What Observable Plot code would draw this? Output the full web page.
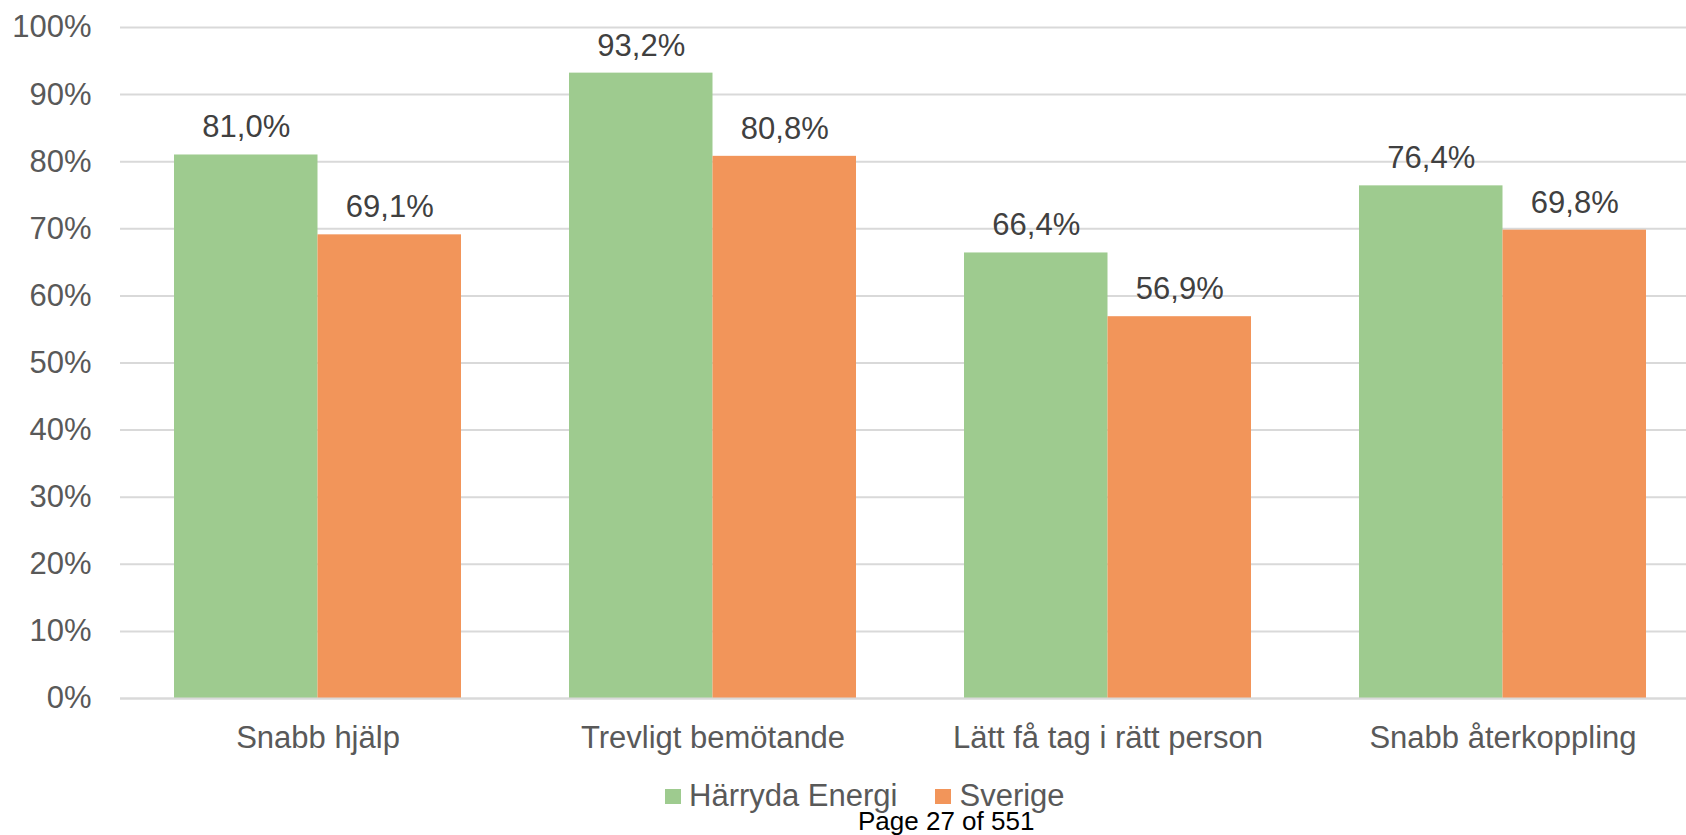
<!DOCTYPE html>
<html>
<head>
<meta charset="utf-8">
<script src="https://cdn.jsdelivr.net/npm/d3@7"></script>
<script src="https://cdn.jsdelivr.net/npm/@observablehq/plot@0.6"></script>
<style>
  html, body { margin: 0; padding: 0; background: #fff; overflow: hidden; }
  #wrap { position: relative; width: 1686px; height: 835px; overflow: hidden; background: #fff; font-family: "Liberation Sans", Arial, sans-serif; }
  #chart { position: absolute; left: 0; top: 0; }
  #legend { position: absolute; left: 665px; top: 780px; display: flex; align-items: center; font-size: 31px; line-height: 31px; color: #595959; white-space: nowrap; }
  .item { display: flex; align-items: center; }
  .item + .item { margin-left: 38px; }
  .sw { width: 16px; height: 15px; margin-right: 8px; margin-top: 2px; }
  #page { position: absolute; left: 858px; top: 808px; font-size: 26px; line-height: 26px; color: #000; white-space: nowrap; }
</style>
</head>
<body>
<div id="wrap">
  <div id="chart"></div>
  <div id="legend"></div>
  <div id="page">Page 27 of 551</div>
</div>
<script>
const categories = ["Snabb hjälp", "Trevligt bemötande", "Lätt få tag i rätt person", "Snabb återkoppling"];
const series = ["Härryda Energi", "Sverige"];
const harrydaValues = [81.0, 93.2, 66.4, 76.4];
const sverigeValues = [69.1, 80.8, 56.9, 69.8];
const yTicks = [0, 10, 20, 30, 40, 50, 60, 70, 80, 90, 100];
const colors = ["#9ECB8F", "#F2955A"];

const harryda = categories.map((c, i) => ({category: c, series: series[0], value: harrydaValues[i]}));
const sverige = categories.map((c, i) => ({category: c, series: series[1], value: sverigeValues[i]}));
const fmt = v => v.toFixed(1).replace(".", ",") + "%";

const half = 143.5;

const chart = Plot.plot({
  width: 1686,
  height: 760,
  marginLeft: 120,
  marginRight: -14,
  marginTop: 27,
  marginBottom: 62,
  style: {fontFamily: "'Liberation Sans', Arial, sans-serif", fontSize: "31px", color: "#595959", background: "white", overflow: "hidden"},
  x: {domain: categories, paddingInner: 0.2734, paddingOuter: 0.1367, label: null, tickSize: 0, tickPadding: 27},
  y: {domain: [0, 100], ticks: yTicks, tickFormat: d => d + "%", label: null, tickSize: 0, tickPadding: 29},
  color: {domain: series, range: colors},
  marks: [
    Plot.ruleY(yTicks, {stroke: "#d9d9d9", strokeWidth: 2}),
    Plot.barY(harryda, {x: "category", y: "value", fill: "series", insetRight: half, insetLeft: 0}),
    Plot.barY(sverige, {x: "category", y: "value", fill: "series", insetLeft: half, insetRight: 0}),
    Plot.ruleY([0], {stroke: "#d9d9d9", strokeWidth: 2}),
    Plot.text(harryda, {x: "category", y: "value", text: d => fmt(d.value), dx: -half / 2, dy: -27.5, fill: "#404040"}),
    Plot.text(sverige, {x: "category", y: "value", text: d => fmt(d.value), dx: half / 2, dy: -27.5, fill: "#404040"})
  ]
});
document.getElementById("chart").appendChild(chart);

const legend = document.getElementById("legend");
series.forEach((s, i) => {
  const item = document.createElement("div");
  item.className = "item";
  const sw = document.createElement("div");
  sw.className = "sw";
  sw.style.background = colors[i];
  const t = document.createElement("span");
  t.textContent = s;
  item.appendChild(sw);
  item.appendChild(t);
  legend.appendChild(item);
});
</script>
</body>
</html>
